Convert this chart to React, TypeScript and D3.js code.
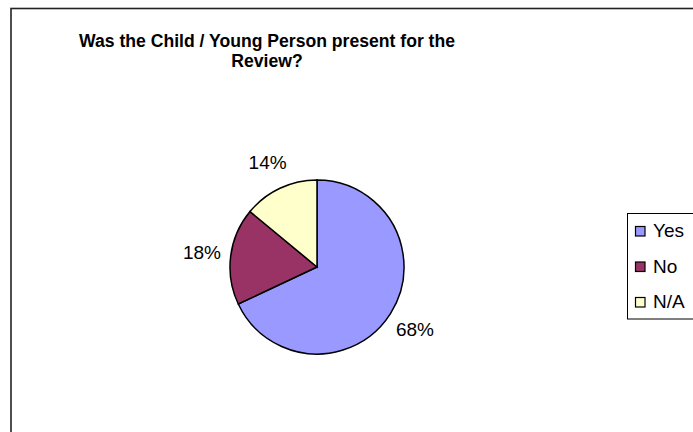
import { useMemo } from "react";
import * as d3 from "d3";

const CATEGORIES = ["Yes", "No", "N/A"];
const VALUES = [68, 18, 14];
const COLORS = ["#9999FF", "#993366", "#FFFFCC"];
const TITLE_LINES = ["Was the Child / Young Person present for the", "Review?"];

const WIDTH = 693;
const HEIGHT = 432;
const CENTER = { x: 317, y: 267 };
const RADIUS = 87;
const LABEL_RADIUS = 116;
const FONT = "Arial, 'Liberation Sans', Helvetica, sans-serif";

export default function App() {
  const arcs = useMemo(
    () =>
      d3
        .pie<number>()
        .sort(null)
        .startAngle(0)
        .endAngle(2 * Math.PI)(VALUES),
    []
  );

  const arcGen = d3.arc<d3.PieArcDatum<number>>().innerRadius(0).outerRadius(RADIUS);
  const labelArc = d3
    .arc<d3.PieArcDatum<number>>()
    .innerRadius(LABEL_RADIUS)
    .outerRadius(LABEL_RADIUS);

  const total = d3.sum(VALUES);

  // legend rows: baselines spaced ~35.5px, first at 237
  const legendY = d3
    .scalePoint<number>()
    .domain(d3.range(CATEGORIES.length))
    .range([237, 308]);

  return (
    <>
      <style>{"body{margin:0}"}</style>
      <svg width={WIDTH} height={HEIGHT} style={{ display: "block", fontFamily: FONT }}>
        <rect x={0} y={0} width={WIDTH} height={HEIGHT} fill="#fff" />
        <rect
          x={11}
          y={8.5}
          width={WIDTH + 20}
          height={HEIGHT + 20}
          fill="none"
          stroke="#222"
          strokeWidth={1.6}
        />

        {TITLE_LINES.map((line, i) => (
          <text
            key={i}
            x={267}
            y={47 + i * 19.5}
            textAnchor="middle"
            fontWeight="bold"
            fontSize={17.6}
            fill="#000"
          >
            {line}
          </text>
        ))}

        <g transform={`translate(${CENTER.x},${CENTER.y})`}>
          {arcs.map((a, i) => (
            <path key={i} d={arcGen(a) ?? ""} fill={COLORS[i]} stroke="#000" strokeWidth={1.5} />
          ))}
          {arcs.map((a, i) => {
            const [lx, ly] = labelArc.centroid(a);
            return (
              <text
                key={i}
                x={lx}
                y={ly}
                dy="0.36em"
                textAnchor="middle"
                fontSize={19}
                fill="#000"
              >
                {Math.round((a.value / total) * 100)}%
              </text>
            );
          })}
        </g>

        <g>
          <rect x={627.5} y={213.5} width={100} height={105.5} fill="#fff" stroke="#000" strokeWidth={1} />
          {CATEGORIES.map((c, i) => {
            const base = legendY(i) ?? 0;
            return (
              <g key={c}>
                <rect
                  x={635.5}
                  y={base - 10.5}
                  width={9.5}
                  height={9.5}
                  fill={COLORS[i]}
                  stroke="#000"
                  strokeWidth={1.2}
                />
                <text x={653} y={base} fontSize={19} fill="#000">
                  {c}
                </text>
              </g>
            );
          })}
        </g>
      </svg>
    </>
  );
}
